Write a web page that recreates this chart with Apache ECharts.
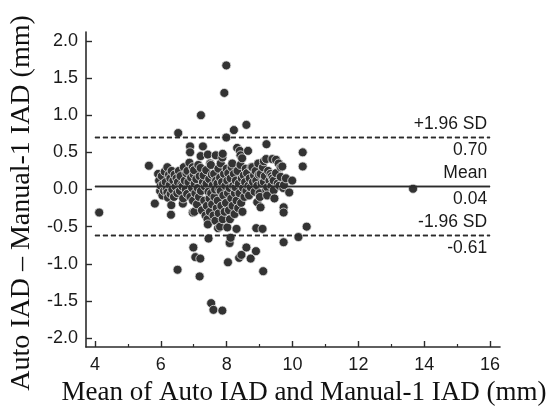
<!DOCTYPE html>
<html>
<head>
<meta charset="utf-8">
<script src="https://cdn.jsdelivr.net/npm/echarts@6/dist/echarts.min.js"></script>
<style>
  html, body { margin: 0; padding: 0; background: #fff; }
  #chart { width: 553px; height: 417px; }
</style>
</head>
<body>
<div id="chart"></div>
<script>
// Bland–Altman agreement: Auto IAD vs Manual-1 IAD, each point = [mean, difference] in mm
var band_4_6 = [
  [4.13, -0.31], [5.64, 0.32], [5.82, -0.19], [5.92, 0.21], [5.95, 0.12], [5.98, -0.02]
];
var band_6_65 = [
  [6.00, 0.05], [6.03, 0.18], [6.05, -0.08], [6.07, 0.07], [6.10, -0.02], [6.12, 0.24],
  [6.15, 0.10], [6.18, 0.00], [6.20, 0.30], [6.20, -0.04], [6.22, -0.11], [6.25, 0.20],
  [6.27, 0.06], [6.29, 0.15], [6.30, -0.06], [6.31, -0.34], [6.32, -0.21], [6.33, 0.25],
  [6.35, 0.00], [6.38, 0.12], [6.40, -0.10], [6.42, 0.20], [6.45, 0.04], [6.48, 0.15],
  [6.50, -0.05]
];
var band_65_7 = [
  [6.51, -1.08], [6.53, 0.76], [6.52, 0.10], [6.55, 0.25], [6.58, -0.02], [6.60, 0.18],
  [6.63, 0.06], [6.66, 0.04], [6.67, -0.19], [6.68, -0.12], [6.70, 0.30], [6.73, 0.12],
  [6.76, 0.00], [6.78, 0.22], [6.80, -0.06], [6.81, 0.25], [6.84, 0.10], [6.87, 0.36],
  [6.89, 0.58], [6.89, 0.50], [6.90, -0.10], [6.92, 0.16], [6.95, 0.02], [6.97, 0.30],
  [6.97, -0.31], [6.98, -0.15], [6.99, -0.78], [7.00, 0.20]
];
var band_7_75 = [
  [7.01, 0.26], [7.02, -0.30], [7.03, 0.08], [7.05, -0.05], [7.05, -0.91], [7.08, 0.14],
  [7.10, -0.20], [7.12, 0.02], [7.14, 0.33], [7.16, -0.10], [7.18, 0.18], [7.18, -1.17],
  [7.20, -0.93], [7.21, 0.45], [7.21, 0.29], [7.22, 1.00], [7.22, -0.02], [7.25, -0.28],
  [7.28, 0.58], [7.28, 0.10], [7.30, 0.19], [7.32, -0.15], [7.34, 0.04], [7.36, -0.35],
  [7.38, 0.26], [7.39, 0.08], [7.40, -0.22], [7.42, -0.40], [7.43, 0.47], [7.43, -0.47],
  [7.45, -0.03], [7.45, -0.66], [7.47, 0.14], [7.48, -0.12], [7.50, 0.35], [7.49, -0.30]
];
var band_75_8 = [
  [7.52, 0.33], [7.53, -0.05], [7.53, -1.53], [7.55, 0.20], [7.56, -0.20], [7.58, 0.06],
  [7.60, -0.35], [7.60, -1.62], [7.62, 0.21], [7.63, -0.10], [7.65, 0.00], [7.66, -0.42],
  [7.67, 0.46], [7.68, 0.12], [7.70, -0.25], [7.72, 0.08], [7.73, -0.15], [7.74, -0.52],
  [7.75, 0.28], [7.76, -0.32], [7.78, 0.00], [7.80, -0.50], [7.80, 0.16], [7.82, 0.35],
  [7.82, -0.02], [7.84, -0.22], [7.86, 0.10], [7.87, 0.43], [7.87, -1.63], [7.88, -0.40],
  [7.88, 0.48], [7.90, -0.08], [7.92, 0.21], [7.93, 1.30], [7.94, -0.30], [7.96, 0.05],
  [7.98, -0.18], [7.99, 1.67], [7.99, 0.70], [8.00, 0.28]
];
var band_8_85 = [
  [8.02, 0.12], [8.02, -0.51], [8.04, -0.05], [8.04, -0.98], [8.05, 0.22], [8.07, -0.28],
  [8.09, 0.02], [8.09, -0.72], [8.10, -0.40], [8.12, 0.15], [8.12, -0.65], [8.14, -0.12],
  [8.15, 0.30], [8.17, 0.35], [8.18, -0.22], [8.20, 0.05], [8.22, 0.21], [8.22, 0.80],
  [8.24, -0.33], [8.25, -0.05], [8.27, 0.03], [8.28, 0.12], [8.30, -0.15], [8.30, -0.53],
  [8.32, 0.56], [8.33, 0.25], [8.35, -0.25], [8.37, 0.08], [8.38, -0.92], [8.39, -0.05],
  [8.40, 0.52], [8.42, 0.33], [8.42, 0.46], [8.44, -0.18], [8.45, -0.88], [8.46, 0.15],
  [8.47, 0.42], [8.48, -0.30], [8.50, 0.02]
];
var band_85_9 = [
  [8.52, 0.19], [8.54, -0.10], [8.56, 0.10], [8.58, 0.28], [8.60, -0.02], [8.60, 0.87],
  [8.60, -0.78], [8.62, 0.22], [8.65, 0.52], [8.66, 0.05], [8.68, -0.08], [8.70, 0.15],
  [8.73, 0.03], [8.73, -0.93], [8.75, 0.30], [8.78, 0.30], [8.80, 0.10], [8.83, 0.19],
  [8.85, -0.03], [8.88, 0.25], [8.89, -0.83], [8.90, 0.12], [8.90, -0.52], [8.93, 0.05],
  [8.93, -0.17], [8.96, 0.35], [8.98, 0.20], [9.00, -0.05]
];
var band_9_16 = [
  [9.01, -0.10], [9.03, 0.21], [9.03, -0.24], [9.06, 0.08], [9.09, -0.53], [9.10, 0.30],
  [9.11, -1.10], [9.13, 0.10], [9.13, 0.38], [9.16, 0.18], [9.20, 0.41], [9.20, 0.00],
  [9.21, 0.61], [9.23, 0.03], [9.23, -0.08], [9.26, 0.25], [9.30, 0.12], [9.33, 0.21],
  [9.36, 0.05], [9.37, 0.18], [9.39, 0.41], [9.40, 0.15], [9.43, 0.12], [9.43, -0.01],
  [9.45, -0.12], [9.50, 0.22], [9.50, 0.40], [9.55, 0.08], [9.58, 0.35], [9.60, 0.05],
  [9.64, 0.17], [9.64, 0.30], [9.69, 0.31], [9.72, 0.02], [9.73, -0.24], [9.73, -0.31],
  [9.73, -0.71], [9.74, 0.06], [9.80, 0.15], [9.90, -0.04], [9.99, 0.12], [10.18, -0.64],
  [10.31, 0.50], [10.31, 0.31], [10.43, -0.50], [13.66, 0.01]
];

// Agreement statistics (mm)
var meanDiff = 0.04;
var upperLoA = 0.70;
var lowerLoA = -0.61;
var refLineFrom = 4;
var refLineTo = 16;

// Axis ticks
var xMajorTicks = [4, 6, 8, 10, 12, 14, 16];
var xMinorTicks = [5, 7, 9, 11, 13, 15];
var yMajorTicks = [-2.0, -1.5, -1.0, -0.5, 0.0, 0.5, 1.0, 1.5, 2.0];

var points = [].concat(band_4_6, band_6_65, band_65_7, band_7_75, band_75_8,
                       band_8_85, band_85_9, band_9_16);

var ink = '#2b2b2b';
var sansFont = '"Liberation Sans", Arial, sans-serif';
var serifFont = '"Liberation Serif", "Times New Roman", serif';

function refLine(value, above, below, dashed) {
  var style = { color: ink, width: 1.4, type: dashed ? [5, 3] : 'solid' };
  var lbl = { show: true, color: '#1a1a1a', fontSize: 17.5, fontFamily: sansFont, distance: [3, 4] };
  return [
    [
      { coord: [refLineFrom, value], lineStyle: style,
        label: Object.assign({}, lbl, { formatter: above, position: 'insideEndTop' }) },
      { coord: [refLineTo, value] }
    ],
    [
      { coord: [refLineFrom, value], lineStyle: style,
        label: Object.assign({}, lbl, { formatter: below, position: 'insideEndBottom' }) },
      { coord: [refLineTo, value] }
    ]
  ];
}

var markData = [].concat(
  refLine(upperLoA, '+1.96 SD', upperLoA.toFixed(2), true),
  refLine(meanDiff, 'Mean', meanDiff.toFixed(2), false),
  refLine(lowerLoA, '-1.96 SD', lowerLoA.toFixed(2), true)
);

var xMin = 3.73, xMax = 16.3, yMin = -2.12, yMax = 2.12;

var chart = echarts.init(document.getElementById('chart'), null, { renderer: 'canvas' });
chart.setOption({
  animation: false,
  backgroundColor: '#ffffff',
  grid: { left: 86, right: 53, top: 32, bottom: 70 },
  xAxis: [
    {
      type: 'value', min: xMin, max: xMax,
      axisLine: { show: true, onZero: false, lineStyle: { color: ink, width: 1.6 } },
      axisTick: { show: true, inside: true, length: 6, customValues: xMajorTicks,
                  lineStyle: { color: ink, width: 1.4 } },
      axisLabel: { customValues: xMajorTicks, fontSize: 18, color: '#1a1a1a',
                   fontFamily: sansFont, margin: 9 },
      splitLine: { show: false }
    },
    {
      type: 'value', min: xMin, max: xMax, position: 'bottom',
      axisLine: { show: false, onZero: false },
      axisTick: { show: true, inside: true, length: 3, customValues: xMinorTicks,
                  lineStyle: { color: ink, width: 1.2 } },
      axisLabel: { show: false },
      splitLine: { show: false }
    }
  ],
  yAxis: {
    type: 'value', min: yMin, max: yMax,
    axisLine: { show: true, onZero: false, lineStyle: { color: ink, width: 1.6 } },
    axisTick: { show: true, inside: true, length: 6, customValues: yMajorTicks,
                lineStyle: { color: ink, width: 1.4 } },
    axisLabel: { customValues: yMajorTicks, fontSize: 18, color: '#1a1a1a',
                 fontFamily: sansFont, margin: 8,
                 formatter: function (v) { return v.toFixed(1); } },
    splitLine: { show: false }
  },
  graphic: [
    {
      type: 'text', x: 304, y: 393,
      style: { text: 'Mean of Auto IAD and Manual-1 IAD (mm)', font: '27px ' + serifFont,
               fill: '#111', textAlign: 'center', textVerticalAlign: 'middle' }
    },
    {
      type: 'text', x: 22, y: 203, rotation: Math.PI / 2,
      style: { text: 'Auto IAD \u2013 Manual-1 IAD (mm)', font: '28px ' + serifFont,
               fill: '#111', textAlign: 'center', textVerticalAlign: 'middle' }
    }
  ],
  series: [
    {
      type: 'scatter',
      xAxisIndex: 0,
      data: points,
      symbol: 'circle',
      symbolSize: 9,
      itemStyle: { color: '#333333', borderColor: '#e4e4e4', borderWidth: 0.8, opacity: 1 },
      markLine: {
        silent: true,
        symbol: ['none', 'none'],
        animation: false,
        data: markData
      },
      z: 3
    }
  ]
});
</script>
</body>
</html>
